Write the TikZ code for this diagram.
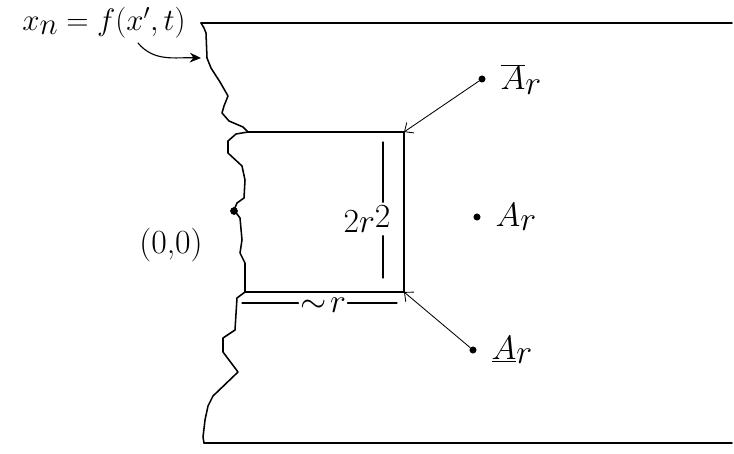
\RequirePackage{fix-cm}
\documentclass[tikz,border=0pt]{standalone}
\usetikzlibrary{arrows.meta}
\begin{document}
\begin{tikzpicture}[x=0.025cm, y=-0.025cm, line join=round, line cap=round, font=\fontsize{24}{28}\selectfont,
	dot/.style={circle, fill=black, inner sep=0pt, minimum size=5pt},
	edge/.style={line width=1.1pt},
	dim/.style={line width=0.9pt},
	pointer/.style={line width=0.6pt, -{Straight Barb[length=5pt, width=9pt]}}]
	\useasboundingbox (0,0) rectangle (734,453);
	% Khung trên và dưới
	\coordinate (TL) at (201,23);
	\coordinate (TR) at (732,23);
	\coordinate (BL) at (204,443);
	\coordinate (BR) at (732,443);
	\draw[edge] (TL) -- (TR);
	\draw[edge] (BL) -- (BR);
	
	% Các góc của hộp
	\coordinate (P) at (248,132);
	\coordinate (Q) at (404,132);
	\coordinate (R) at (404,292);
	\coordinate (S) at (245,292);
	
	% Biên gồ ghề
	\draw[edge] (TL) -- (204,28) -- (206,33) -- (207,58) -- (211,68) -- (220,82) -- (228,96)
		-- (224,106) -- (222,113) -- (229,121) -- (243,127) -- (P);
	\draw[edge] (P) -- (236,134) -- (228,141) -- (228,153) -- (242,166) -- (245,180) -- (244,198)
		-- (237,203) -- (234,210) -- (240,218) -- (242,240) -- (240,253) -- (245,263) -- (S);
	\draw[edge] (S) -- (237,298) -- (235,330) -- (223,338) -- (223,352) -- (238,372) -- (213,396)
		-- (208,406) -- (205,420) -- (203,437) -- (BL);
	
	% Hộp
	\draw[edge] (P) -- (Q) -- (R) -- (S);
	
	% Kích thước
	\node[inner sep=2pt] (ht) at (367,219) {$2r\raisebox{4pt}{$2$}$};
	\coordinate (vt) at (383,142);
	\coordinate (vb) at (383,278);
	\draw[dim] (vt) -- (vt |- ht.north);
	\draw[dim] (vb |- ht.south) -- (vb);
	\node[inner sep=1pt] (len) at (323,305) {$\sim\!r$};
	\coordinate (hl) at (242,303);
	\coordinate (hr) at (397,303);
	\draw[dim] (hl) -- (hl -| len.west);
	\draw[dim] (hr -| len.east) -- (hr);
	
	% Gốc tọa độ
	\node[dot, minimum size=5.5pt] (O) at (234,211) {};
	\node[font=\fontsize{24}{28}\selectfont] (Olab) at (171,245) {(0,0)};
	
	% Các điểm
	\node[dot] (Abar) at (482,79) {};
	\node[dot] (Amid) at (477,217) {};
	\node[dot] (Aund) at (473,350) {};
	\foreach \p/\t in {Abar/\overline{A}, Amid/A, Aund/\underline{A}}
	\node[anchor=west, xshift=7pt] (\p lab) at (\p.east) {$\t\raisebox{-3pt}{$r$}$};
	\draw[pointer] (Abar) -- (Q);
	\draw[pointer] (Aund) -- (R);
	
	% Nhãn biên
	\node[inner sep=0pt, font=\fontsize{22}{26}\selectfont] (xn) at (104,23) {$x\raisebox{-3pt}{$n$} = f(x',t)$};
	\coordinate (cs) at (138,43);
	\coordinate (ce) at (201,58);
	\draw[line width=0.8pt, -{Stealth[length=8pt, width=7pt]}] (cs) to[out=-50, in=178] (ce);
\end{tikzpicture}
\end{document}
